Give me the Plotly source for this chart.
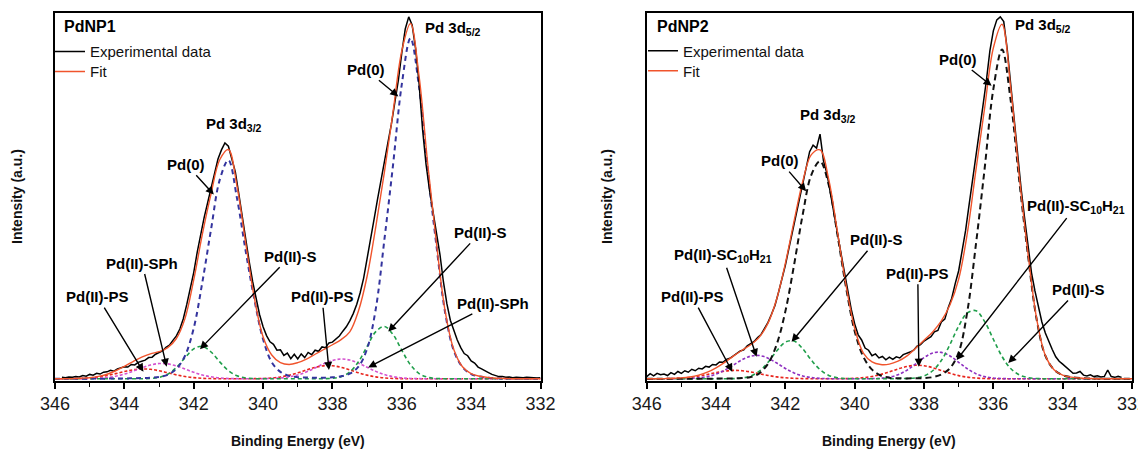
import numpy as np
import plotly.graph_objects as go

FONT = "Liberation Sans, Arial, Helvetica, sans-serif"

# ---------------- data ----------------
FIT_START, FIT_STEP = 346.0, 0.25
EXP_STEP = 0.1

# ---- PdNP1 ----
exp1_start = 345.8
exp1 = [0.4, 0.3, 0.5, 0.4, 0.6, 0.5, 0.9, 0.7, 1.2, 1.0,
        1.5, 1.3, 1.8, 1.9, 2.3, 2.1, 2.7, 2.9, 3.3, 3.2,
        3.9, 3.8, 4.5, 4.8, 5.1, 5.8, 5.9, 6.7, 7.2, 7.6,
        8.6, 9.2, 10.5, 11.7, 13.6, 16.4, 20.3, 24.5, 29.0, 34.5,
        39.5, 44.0, 48.0, 52.0, 56.0, 60.0, 62.5, 64.4, 63.5, 60.0,
        56.5, 50.5, 44.0, 38.0, 32.0, 26.5, 21.5, 17.5, 14.2, 11.8,
        10.1, 9.4, 7.8, 7.9, 6.4, 7.0, 5.5, 6.7, 5.4, 6.8,
        5.8, 7.2, 6.6, 7.8, 7.5, 8.7, 8.5, 9.8, 10.0, 11.0,
        11.7, 13.0, 14.2, 15.8, 17.8, 20.3, 23.5, 27.5, 32.5, 38.0,
        43.5, 49.0, 54.5, 59.5, 64.5, 69.5, 75.0, 81.5, 89.0, 95.5,
        98.8, 96.5, 90.0, 80.5, 68.0, 58.5, 51.5, 45.5, 40.5, 34.0,
        26.5, 20.5, 16.0, 13.2, 10.6, 8.5, 6.9, 6.3, 4.9, 4.3,
        3.2, 2.7, 2.1, 1.7, 1.2, 0.9, 0.6, 0.6, 0.4, 0.5,
        0.3, 0.4, 0.3, 0.3, 0.4, 0.3, 0.3, 0.2, 0.3]
fit1 = [0.0, 0.0, 0.05, 0.15, 0.3, 0.65, 1.25, 2.2, 3.4, 4.7,
        5.9, 6.8, 7.4, 8.5, 11.0, 16.5, 27.0, 39.5, 50.5, 59.8,
        62.6, 52.5, 37.0, 22.0, 11.5, 6.5, 4.4, 3.9, 4.4, 5.4,
        6.7, 8.0, 9.3, 10.7, 12.8, 18.5, 28.0, 41.5, 56.5, 73.0,
        89.5, 97.0, 82.5, 58.5, 37.0, 18.5, 8.0, 3.3, 1.4, 0.7,
        0.35, 0.15, 0.1, 0.0, 0.0, 0.0, 0.0]
pd0_1 = [0, 0, 0, 0, 0.05, 0.05, 0.05, 0.1, 0.1, 0.15,
         0.2, 0.3, 0.5, 1.1, 2.7, 6.3, 13.8, 26.4, 40.8, 54.3,
         59.7, 49.2, 34.8, 21.6, 10.8, 4.5, 1.9, 0.8, 0.45, 0.35,
         0.3, 0.3, 0.4, 0.7, 1.4, 3.3, 8.2, 19.1, 38.1, 58.6,
         80.4, 93.0, 79.5, 56.7, 36.3, 18.1, 7.7, 3.2, 1.3, 0.6,
         0.3, 0.15, 0.1, 0.05, 0, 0, 0]
pds_1 = [0, 0, 0, 0, 0, 0, 0, 0, 0, 0,
         0.02, 0.1, 0.39, 1.25, 3.07, 5.74, 8.16, 8.86, 7.32, 4.62,
         2.23, 0.82, 0.23, 0.05, 0, 0, 0, 0, 0, 0,
         0.01, 0.05, 0.13, 0.57, 1.86, 4.65, 8.85, 12.87, 14.27, 12.07,
         7.78, 3.82, 1.43, 0.41, 0.09, 0.02, 0, 0, 0, 0,
         0, 0, 0, 0, 0, 0, 0]
psph_1 = [0, 0, 0.01, 0.02, 0.05, 0.14, 0.33, 0.69, 1.28, 2.08,
          2.98, 3.76, 4.17, 4.08, 3.51, 2.66, 1.77, 1.04, 0.54, 0.24,
          0.1, 0.04, 0.02, 0.02, 0.04, 0.09, 0.22, 0.51, 1.04, 1.87,
          2.95, 4.1, 5.01, 5.4, 5.11, 4.27, 3.13, 2.03, 1.15, 0.58,
          0.25, 0.1, 0.04, 0.01, 0, 0, 0, 0, 0, 0,
          0, 0, 0, 0, 0, 0, 0]
pps_1 = [0, 0.01, 0.04, 0.1, 0.23, 0.48, 0.88, 1.41, 1.98, 2.46,
         2.69, 2.59, 2.2, 1.64, 1.07, 0.62, 0.32, 0.14, 0.06, 0.02,
         0.01, 0.01, 0.02, 0.04, 0.1, 0.24, 0.51, 0.98, 1.63, 2.4,
         3.11, 3.54, 3.55, 3.13, 2.43, 1.66, 1.0, 0.53, 0.25, 0.1,
         0.04, 0.01, 0, 0, 0, 0, 0, 0, 0, 0,
         0, 0, 0, 0, 0, 0, 0]

# ---- PdNP2 ----
exp2_start = 346.0
exp2 = [0.6, 1.4, 0.8, 1.5, 1.1, 1.3, 0.9, 1.7, 1.2, 2.0,
        1.5, 2.2, 1.8, 2.6, 2.2, 2.9, 2.7, 3.4, 3.2, 3.9,
        3.8, 4.6, 4.5, 5.3, 5.6, 6.3, 6.8, 7.6, 7.9, 9.0,
        9.6, 10.2, 11.3, 12.1, 13.8, 15.4, 17.6, 20.0, 23.5, 27.0,
        31.0, 35.5, 40.0, 44.5, 49.5, 54.0, 58.5, 62.0, 63.8, 63.0,
        66.8, 59.5, 56.0, 51.0, 45.5, 40.0, 34.5, 29.0, 24.0, 19.0,
        15.0, 12.0, 10.6, 8.4, 7.8, 6.3, 6.8, 5.7, 6.1, 5.2,
        5.9, 5.3, 6.0, 5.7, 6.6, 6.9, 7.3, 7.8, 8.9, 9.3,
        10.3, 10.9, 11.5, 12.8, 13.2, 15.5, 16.3, 19.5, 22.0, 26.0,
        29.5, 35.0, 40.5, 47.5, 54.0, 61.0, 67.5, 74.5, 81.5, 89.5,
        95.0, 98.0, 98.8, 97.5, 90.0, 80.5, 70.0, 60.5, 52.0, 44.0,
        36.5, 29.0, 24.0, 19.5, 15.5, 12.5, 10.0, 8.0, 6.0, 4.8,
        4.0, 3.2, 2.4, 1.5, 1.6, 2.0, 1.0, 0.8, 1.1, 0.6,
        0.8, 0.5, 0.6, 2.4, 0.6, 0.4, 0.7, 0.4]
fit2 = [0.0, 0.0, 0.05, 0.1, 0.25, 0.5, 1.0, 1.8, 3.0, 4.5,
        6.2, 7.8, 9.3, 11.4, 15.2, 21.8, 31.5, 43.0, 53.8, 61.2,
        62.5, 54.5, 40.3, 25.6, 13.8, 7.0, 4.6, 3.9, 4.0, 4.8,
        6.2, 8.3, 10.5, 12.8, 15.8, 20.2, 27.2, 39.8, 57.2, 74.0,
        90.3, 96.8, 79.5, 55.2, 34.2, 16.4, 6.4, 2.5, 1.0, 0.45,
        0.2, 0.1, 0.0, 0.0, 0.0, 0.0, 0.0]
pd0_2 = [0, 0, 0, 0, 0, 0, 0, 0.02, 0.05, 0.08,
         0.12, 0.2, 0.5, 1.5, 4.1, 9.4, 18.4, 31.0, 44.8, 55.7,
         59.4, 53.0, 39.5, 25.0, 13.0, 6.0, 2.5, 0.9, 0.3, 0.15,
         0.1, 0.15, 0.2, 0.45, 1.2, 2.9, 7.2, 18.4, 36.9, 57.5,
         79.1, 89.9, 76.0, 53.9, 33.7, 16.2, 6.3, 2.5, 1.0, 0.45,
         0.2, 0.1, 0.05, 0, 0, 0, 0]
pds_2 = [0, 0, 0, 0, 0, 0, 0, 0, 0, 0,
         0.04, 0.21, 0.75, 2.1, 4.5, 7.6, 10.0, 10.3, 8.2, 5.1,
         2.5, 0.93, 0.27, 0.06, 0, 0, 0, 0, 0.01, 0.03,
         0.1, 0.23, 0.79, 2.2, 5.0, 9.4, 14.4, 18.0, 18.6, 15.6,
         10.8, 6.1, 2.8, 1.07, 0.34, 0.08, 0, 0, 0, 0,
         0, 0, 0, 0, 0, 0, 0]
psc_2 = [0, 0, 0.01, 0.01, 0.03, 0.08, 0.24, 0.59, 1.27, 2.35,
         3.76, 5.2, 6.18, 6.35, 5.63, 4.3, 2.83, 1.61, 0.79, 0.33,
         0.12, 0.04, 0.01, 0, 0, 0.01, 0.04, 0.16, 0.46, 1.12,
         2.31, 3.99, 5.78, 7.04, 7.22, 6.22, 4.5, 2.74, 1.4, 0.6,
         0.22, 0.07, 0.02, 0, 0, 0, 0, 0, 0, 0,
         0, 0, 0, 0, 0, 0, 0]
pps_2 = [0, 0.01, 0.03, 0.09, 0.2, 0.41, 0.75, 1.2, 1.69, 2.1,
         2.29, 2.21, 1.87, 1.39, 0.92, 0.53, 0.27, 0.12, 0.05, 0.02,
         0.01, 0.01, 0.02, 0.05, 0.13, 0.31, 0.64, 1.17, 1.89, 2.69,
         3.35, 3.69, 3.57, 3.04, 2.28, 1.5, 0.87, 0.45, 0.2, 0.08,
         0.03, 0.01, 0, 0, 0, 0, 0, 0, 0, 0,
         0, 0, 0, 0, 0, 0, 0]

X_TICKS = [346, 344, 342, 340, 338, 336, 334, 332]

N_FIT = len(fit1)
for arr in (fit1, pd0_1, pds_1, psph_1, pps_1, fit2, pd0_2, pds_2, psc_2, pps_2):
    assert len(arr) == N_FIT, len(arr)

grid = np.round(FIT_START - FIT_STEP * np.arange(N_FIT), 3)
x_exp1 = np.round(exp1_start - EXP_STEP * np.arange(len(exp1)), 3)
x_exp2 = np.round(exp2_start - EXP_STEP * np.arange(len(exp2)), 3)

# ---------------- geometry helpers (page has an 8px body margin) ----------------
W, H = 1146, 450
OFF = 8


def fx(px):
    return (px - OFF) / W


def fy(py):
    return 1 - (py - OFF) / H


# ---------------- styles ----------------
C_EXP = "#000000"
C_FIT = "#f0542c"
C_PD0_1 = "#34349e"
C_PD0_2 = "#111111"
C_S = "#1f9e4a"
C_SPH = "#d452cf"
C_SC = "#8e2fc0"
C_PS = "#e8241c"

fig = go.Figure()


def comp(x, y, color, dash, xa, ya, width=1.6):
    fig.add_trace(go.Scatter(x=x, y=y, mode="lines", xaxis=xa, yaxis=ya,
                             line=dict(color=color, width=width, dash=dash,
                                       shape="spline", smoothing=1.0),
                             showlegend=False, hoverinfo="skip"))


# panel 1
comp(grid, pps_1, C_PS, "3px,2px", "x", "y")
comp(grid, psph_1, C_SPH, "3px,2px", "x", "y")
comp(grid, pds_1, C_S, "4px,3px", "x", "y")
comp(grid, pd0_1, C_PD0_1, "5px,4px", "x", "y", 2.0)
fig.add_trace(go.Scatter(x=x_exp1, y=exp1, mode="lines", name="Experimental data",
                         line=dict(color=C_EXP, width=1.5), xaxis="x", yaxis="y",
                         legend="legend"))
fig.add_trace(go.Scatter(x=grid, y=fit1, mode="lines", name="Fit",
                         line=dict(color=C_FIT, width=1.4, shape="spline"),
                         xaxis="x", yaxis="y", legend="legend2"))

# panel 2
comp(grid, pps_2, C_PS, "3px,2px", "x2", "y2")
comp(grid, psc_2, C_SC, "3px,2px", "x2", "y2")
comp(grid, pds_2, C_S, "4px,3px", "x2", "y2")
comp(grid, pd0_2, C_PD0_2, "6px,4px", "x2", "y2", 2.0)
fig.add_trace(go.Scatter(x=x_exp2, y=exp2, mode="lines", name="Experimental data",
                         line=dict(color=C_EXP, width=1.5), xaxis="x2", yaxis="y2",
                         legend="legend3"))
fig.add_trace(go.Scatter(x=grid, y=fit2, mode="lines", name="Fit",
                         line=dict(color=C_FIT, width=1.4, shape="spline"),
                         xaxis="x2", yaxis="y2", legend="legend4"))

# ---------------- axes ----------------
xax = dict(range=[346, 332], automargin=False, showline=True, linecolor="black",
           linewidth=1.5, mirror=True,
           ticks="outside", ticklen=6, tickwidth=1.5, tickcolor="black",
           tickmode="array", tickvals=X_TICKS, ticktext=[str(t) for t in X_TICKS],
           tickfont=dict(family=FONT, size=18, color="#1a1a1a"),
           showgrid=False, zeroline=False,
           minor=dict(dtick=1, tick0=332, ticks="outside", ticklen=4, tickwidth=1.2,
                      tickcolor="black", showgrid=False))
yax = dict(range=[-0.6, 100], automargin=False, showline=True, linecolor="black",
           linewidth=1.5, mirror=True,
           showticklabels=False, ticks="", showgrid=False, zeroline=False)


def leg(px, py):
    return dict(x=fx(px), y=fy(py), xanchor="left", yanchor="middle",
                bgcolor="rgba(0,0,0,0)", borderwidth=0,
                font=dict(family=FONT, size=15, color="#111"), itemwidth=30)


fig.update_layout(
    width=W, height=H, margin=dict(l=0, r=0, t=0, b=0, autoexpand=False),
    paper_bgcolor="white", plot_bgcolor="white",
    font=dict(family=FONT, color="black"),
    xaxis=dict(domain=[fx(55), fx(540.5)], anchor="y", **xax),
    yaxis=dict(domain=[fy(381), fy(12.5)], anchor="x", **yax),
    xaxis2=dict(domain=[fx(646.7), fx(1132)], anchor="y2", **xax),
    yaxis2=dict(domain=[fy(381), fy(12.5)], anchor="x2", **yax),
    legend=leg(50, 51.7), legend2=leg(50, 71.7),
    legend3=leg(643, 51.0), legend4=leg(643, 71.0),
    showlegend=True,
)

ann = []
LBL = dict(family=FONT, size=15, color="black")


def label(text, x, y, xa, ya, anchor="center"):
    ann.append(dict(text=text, x=x, y=y, xref=xa, yref=ya, showarrow=False,
                    xanchor=anchor, yanchor="middle", font=LBL))


def pointer(text, tx, ty, hx, hy, xa, ya):
    """Label centred at (tx, ty) with an arrow pointing to (hx, hy)."""
    ann.append(dict(text=text, x=hx, y=hy, ax=tx, ay=ty, xref=xa, yref=ya,
                    axref=xa, ayref=ya, showarrow=True, arrowhead=2, arrowsize=1.15,
                    arrowwidth=1.4, arrowcolor="black", standoff=0, startstandoff=1,
                    font=LBL))


# panel 1 labels
label("<b>Pd 3d<sub>5/2</sub></b>", 335.39, 95.5, "x", "y", "left")
label("<b>Pd 3d<sub>3/2</sub></b>", 341.70, 69.3, "x", "y", "left")
pointer("<b>Pd(0)</b>", 337.03, 84.4, 336.10, 77.1, "x", "y")
pointer("<b>Pd(0)</b>", 342.21, 58.5, 341.42, 50.3, "x", "y")
pointer("<b>Pd(II)-SPh</b>", 343.49, 31.6, 342.78, 3.3, "x", "y")
pointer("<b>Pd(II)-PS</b>", 344.77, 22.4, 343.45, 1.9, "x", "y")
pointer("<b>Pd(II)-S</b>", 339.22, 33.4, 341.82, 8.1, "x", "y")
pointer("<b>Pd(II)-PS</b>", 338.30, 22.4, 338.10, 2.4, "x", "y")
pointer("<b>Pd(II)-S</b>", 333.74, 39.9, 336.39, 12.9, "x", "y")
pointer("<b>Pd(II)-SPh</b>", 333.38, 20.6, 336.97, 3.1, "x", "y")

# panel 2 labels
label("<b>Pd 3d<sub>5/2</sub></b>", 335.43, 96.5, "x2", "y2", "left")
label("<b>Pd 3d<sub>3/2</sub></b>", 341.63, 71.8, "x2", "y2", "left")
pointer("<b>Pd(0)</b>", 337.01, 87.2, 336.05, 80.0, "x2", "y2")
pointer("<b>Pd(0)</b>", 342.16, 59.5, 341.40, 51.2, "x2", "y2")
pointer("<b>Pd(II)-SC<sub>10</sub>H<sub>21</sub></b>", 343.81, 33.6, 342.83, 6.0, "x2", "y2")
pointer("<b>Pd(II)-PS</b>", 344.68, 22.4, 343.53, 1.9, "x2", "y2")
pointer("<b>Pd(II)-S</b>", 339.37, 37.9, 341.82, 10.1, "x2", "y2")
pointer("<b>Pd(II)-PS</b>", 338.18, 28.8, 338.15, 3.3, "x2", "y2")
pointer("<b>Pd(II)-SC<sub>10</sub>H<sub>21</sub></b>", 333.62, 47.1, 337.06, 5.1, "x2", "y2")
pointer("<b>Pd(II)-S</b>", 333.55, 24.3, 335.57, 4.3, "x2", "y2")

# panel titles and axis titles
TITLE = dict(family=FONT, size=16, color="black")
AX = dict(family=FONT, size=14, color="#111")
ann.append(dict(text="<b>PdNP1</b>", x=fx(62), y=fy(26), xref="paper", yref="paper",
                showarrow=False, xanchor="left", yanchor="middle", font=TITLE))
ann.append(dict(text="<b>PdNP2</b>", x=fx(655), y=fy(26), xref="paper", yref="paper",
                showarrow=False, xanchor="left", yanchor="middle", font=TITLE))
for cx in [(55 + 540.5) / 2, (646.7 + 1132) / 2]:
    ann.append(dict(text="<b>Binding Energy (eV)</b>", x=fx(cx), y=fy(441), xref="paper",
                    yref="paper", showarrow=False, xanchor="center", yanchor="middle", font=AX))
for cx in [17, 607]:
    ann.append(dict(text="<b>Intensity (a.u.)</b>", x=fx(cx), y=fy(197), xref="paper",
                    yref="paper", showarrow=False, xanchor="center", yanchor="middle",
                    textangle=-90, font=AX))

fig.update_layout(annotations=ann)
fig.write_html("out.html")
